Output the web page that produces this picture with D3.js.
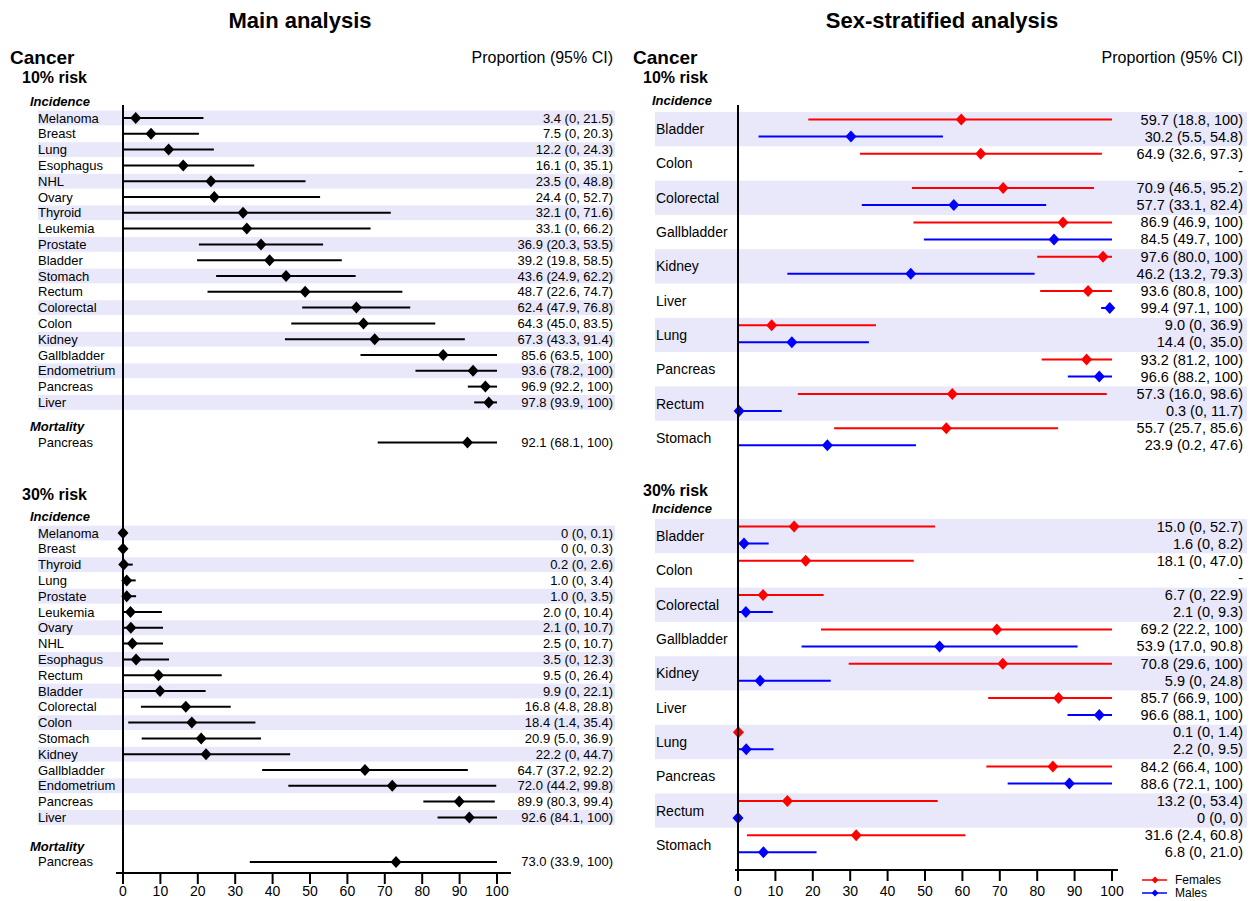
<!DOCTYPE html>
<html>
<head>
<meta charset="utf-8">
<script src="https://cdn.jsdelivr.net/npm/d3@7"></script>
<style>
  body { margin: 0; background: #fff; }
  svg text { font-family: "Liberation Sans", Arial, sans-serif; }
</style>
</head>
<body>
<script>
// ---- Main analysis data ----
let names10 = ["Melanoma","Breast","Lung","Esophagus","NHL","Ovary","Thyroid","Leukemia","Prostate","Bladder","Stomach","Rectum","Colorectal","Colon","Kidney","Gallbladder","Endometrium","Pancreas","Liver"];
let est10 = [3.4,7.5,12.2,16.1,23.5,24.4,32.1,33.1,36.9,39.2,43.6,48.7,62.4,64.3,67.3,85.6,93.6,96.9,97.8];
let lo10  = [0,0,0,0,0,0,0,0,20.3,19.8,24.9,22.6,47.9,45.0,43.3,63.5,78.2,92.2,93.9];
let hi10  = [21.5,20.3,24.3,35.1,48.8,52.7,71.6,66.2,53.5,58.5,62.2,74.7,76.8,83.5,91.4,100,100,100,100];
let mort10 = {name: "Pancreas", est: 92.1, lo: 68.1, hi: 100};

let names30 = ["Melanoma","Breast","Thyroid","Lung","Prostate","Leukemia","Ovary","NHL","Esophagus","Rectum","Bladder","Colorectal","Colon","Stomach","Kidney","Gallbladder","Endometrium","Pancreas","Liver"];
let est30 = [0,0,0.2,1.0,1.0,2.0,2.1,2.5,3.5,9.5,9.9,16.8,18.4,20.9,22.2,64.7,72.0,89.9,92.6];
let lo30  = [0,0,0,0,0,0,0,0,0,0,0,4.8,1.4,5.0,0,37.2,44.2,80.3,84.1];
let hi30  = [0.1,0.3,2.6,3.4,3.5,10.4,10.7,10.7,12.3,26.4,22.1,28.8,35.4,36.9,44.7,92.2,99.8,99.4,100];
let mort30 = {name: "Pancreas", est: 73.0, lo: 33.9, hi: 100};

// ---- Sex-stratified data (null = not estimated) ----
let sexCancers = ["Bladder","Colon","Colorectal","Gallbladder","Kidney","Liver","Lung","Pancreas","Rectum","Stomach"];
let fEst10 = [59.7,64.9,70.9,86.9,97.6,93.6,9.0,93.2,57.3,55.7];
let fLo10  = [18.8,32.6,46.5,46.9,80.0,80.8,0,81.2,16.0,25.7];
let fHi10  = [100,97.3,95.2,100,100,100,36.9,100,98.6,85.6];
let mEst10 = [30.2,null,57.7,84.5,46.2,99.4,14.4,96.6,0.3,23.9];
let mLo10  = [5.5,null,33.1,49.7,13.2,97.1,0,88.2,0,0.2];
let mHi10  = [54.8,null,82.4,100,79.3,100,35.0,100,11.7,47.6];

let fEst30 = [15.0,18.1,6.7,69.2,70.8,85.7,0.1,84.2,13.2,31.6];
let fLo30  = [0,0,0,22.2,29.6,66.9,0,66.4,0,2.4];
let fHi30  = [52.7,47.0,22.9,100,100,100,1.4,100,53.4,60.8];
let mEst30 = [1.6,null,2.1,53.9,5.9,96.6,2.2,88.6,0,6.8];
let mLo30  = [0,null,0,17.0,0,88.1,0,72.1,0,0];
let mHi30  = [8.2,null,9.3,90.8,24.8,100,9.5,100,0,21.0];

let ticks = [0,10,20,30,40,50,60,70,80,90,100];

let canvasW = 1250;
let canvasH = 901;
let band = "#e8e8fa";

function fmt(v) {
  if (v === 0 || v === 100) return String(v);
  return v.toFixed(1);
}
function ciText(e, l, h) {
  if (e === null) return "-";
  return fmt(e) + " (" + fmt(l) + ", " + fmt(h) + ")";
}

let svg = d3.select("body").append("svg")
  .attr("width", canvasW)
  .attr("height", canvasH);

function diamond(g, x, y, color) {
  g.append("path")
    .attr("d", "M" + x + "," + (y - 6) + "L" + (x + 5.5) + "," + y + "L" + x + "," + (y + 6) + "L" + (x - 5.5) + "," + y + "Z")
    .attr("fill", color);
}

function ciLine(g, x, y, e, l, h, color) {
  g.append("line")
    .attr("x1", x(l)).attr("x2", x(h))
    .attr("y1", y).attr("y2", y)
    .attr("stroke", color)
    .attr("stroke-width", 2);
  diamond(g, x(e), y, color);
}

function label(g, x, y, txt, size, weight, style, anchor) {
  g.append("text")
    .attr("x", x).attr("y", y)
    .attr("dominant-baseline", "central")
    .attr("text-anchor", anchor || "start")
    .attr("font-size", size + "px")
    .attr("font-weight", weight || "normal")
    .attr("font-style", style || "normal")
    .attr("fill", "black")
    .text(txt);
}

function drawAxis(g, x, y, x0, x1) {
  g.append("line")
    .attr("x1", x0).attr("x2", x1)
    .attr("y1", y).attr("y2", y)
    .attr("stroke", "black").attr("stroke-width", 2);
  g.selectAll(".tk").data(ticks).enter().append("line")
    .attr("x1", d => x(d)).attr("x2", d => x(d))
    .attr("y1", y).attr("y2", y + 11)
    .attr("stroke", "black").attr("stroke-width", 2);
  g.selectAll(".tl").data(ticks).enter().append("text")
    .attr("x", d => x(d)).attr("y", 891)
    .attr("dominant-baseline", "central")
    .attr("text-anchor", "middle")
    .attr("font-size", "14px")
    .text(d => d);
}

// ================= Main analysis =================
let left = svg.append("g");
let xL = d3.scaleLinear().domain([0, 100]).range([123, 497]);
let step = 15.8;

label(left, 300, 20, "Main analysis", 22, "bold", null, "middle");
label(left, 10, 57, "Cancer", 19, "bold");
label(left, 613, 57, "Proportion (95% CI)", 16, "normal", null, "end");

function mainSection(top, y0, mortGap, names, est, lo, hi, mort, riskTxt) {
  label(left, 22, top, riskTxt, 16, "bold");
  label(left, 30, y0 - 17, "Incidence", 13, "bold", "italic");
  names.forEach((n, i) => {
    let y = y0 + i * step;
    if (i % 2 === 0) {
      left.append("rect")
        .attr("x", 38).attr("y", y - 7.4)
        .attr("width", 577).attr("height", 14.8)
        .attr("fill", band);
    }
  });
  names.forEach((n, i) => {
    let y = y0 + i * step;
    label(left, 38, y, n, 13);
    label(left, 613, y, ciText(est[i], lo[i], hi[i]), 13, "normal", null, "end");
    ciLine(left, xL, y, est[i], lo[i], hi[i], "black");
  });
  let ym = y0 + (names.length - 1) * step + mortGap;
  label(left, 30, ym - 15.5, "Mortality", 13, "bold", "italic");
  label(left, 38, ym, mort.name, 13);
  label(left, 613, ym, ciText(mort.est, mort.lo, mort.hi), 13, "normal", null, "end");
  ciLine(left, xL, ym, mort.est, mort.lo, mort.hi, "black");
}

mainSection(77, 118, 40, names10, est10, lo10, hi10, mort10, "10% risk");
mainSection(494, 533, 44.5, names30, est30, lo30, hi30, mort30, "30% risk");

left.append("line")
  .attr("x1", xL(0)).attr("x2", xL(0))
  .attr("y1", 105).attr("y2", 873)
  .attr("stroke", "black").attr("stroke-width", 2);
drawAxis(left, xL, 873, 116, 511);

// ================= Sex-stratified analysis =================
let right = svg.append("g");
let xR = d3.scaleLinear().domain([0, 100]).range([738, 1112]);
let gH = 34.3;

label(right, 942, 20, "Sex-stratified analysis", 22, "bold", null, "middle");
label(right, 633, 57, "Cancer", 19, "bold");
label(right, 1243, 57, "Proportion (95% CI)", 16, "normal", null, "end");

function sexSection(riskY, incY, bandTop, fe, fl, fh, me, ml, mh, riskTxt) {
  label(right, 643, riskY, riskTxt, 16, "bold");
  label(right, 652, incY, "Incidence", 13, "bold", "italic");
  sexCancers.forEach((n, i) => {
    let t = bandTop + i * gH;
    if (i % 2 === 0) {
      right.append("rect")
        .attr("x", 655).attr("y", t)
        .attr("width", 592).attr("height", gH)
        .attr("fill", band);
    }
  });
  sexCancers.forEach((n, i) => {
    let t = bandTop + i * gH;
    let yf = t + 7.5;
    let ym = t + 24.5;
    label(right, 656, t + gH / 2, n, 14);
    label(right, 1243, yf, ciText(fe[i], fl[i], fh[i]), 14.5, "normal", null, "end");
    label(right, 1243, ym, ciText(me[i], ml[i], mh[i]), 14.5, "normal", null, "end");
    ciLine(right, xR, yf, fe[i], fl[i], fh[i], "#ff0000");
    if (me[i] !== null) ciLine(right, xR, ym, me[i], ml[i], mh[i], "#0000ff");
  });
}

sexSection(77, 100, 112, fEst10, fLo10, fHi10, mEst10, mLo10, mHi10, "10% risk");
sexSection(490, 508, 519, fEst30, fLo30, fHi30, mEst30, mLo30, mHi30, "30% risk");

right.append("line")
  .attr("x1", xR(0)).attr("x2", xR(0))
  .attr("y1", 105).attr("y2", 870)
  .attr("stroke", "black").attr("stroke-width", 2);
drawAxis(right, xR, 870, 735, 1118);

// legend
let legend = [{name: "Females", color: "#ff0000"}, {name: "Males", color: "#0000ff"}];
legend.forEach((d, i) => {
  let y = 880 + i * 13;
  right.append("line")
    .attr("x1", 1142).attr("x2", 1167)
    .attr("y1", y).attr("y2", y)
    .attr("stroke", d.color).attr("stroke-width", 1.5);
  right.append("path")
    .attr("d", "M1155," + (y - 3.5) + "L1158.5," + y + "L1155," + (y + 3.5) + "L1151.5," + y + "Z")
    .attr("fill", d.color);
  label(right, 1175, y, d.name, 12);
});
</script>
</body>
</html>
